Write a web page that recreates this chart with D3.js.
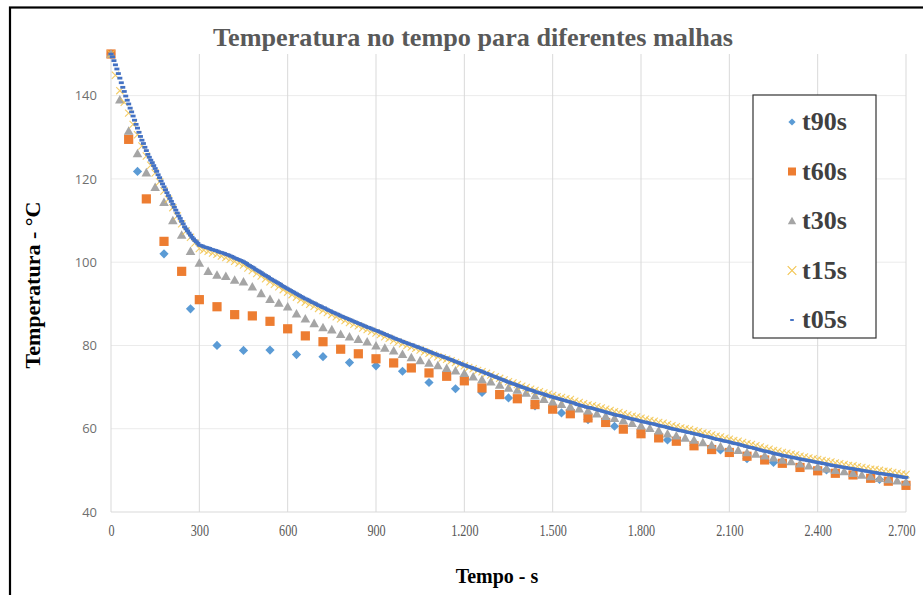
<!DOCTYPE html>
<html>
<head>
<meta charset="utf-8">
<script src="https://cdn.jsdelivr.net/npm/d3@7"></script>
<style>
  body { margin: 0; background: #fff; }
</style>
</head>
<body>
<div id="chart"></div>
<script>
// ---- data ----
const timeTicks = [0, 300, 600, 900, 1200, 1500, 1800, 2100, 2400, 2700]
const tempTicks = [40, 60, 80, 100, 120, 140]
const seriesNames = ["t90s", "t60s", "t30s", "t15s", "t05s"]
const stepSeconds = [90, 60, 30, 15, 5]

const t90s = [150, 121.8, 102, 88.8, 80, 78.8, 78.9, 77.8, 77.3, 75.9, 75.1, 73.8, 71.1, 69.6, 68.7, 67.4,
  65.5, 63.8, 62.2, 60.6, 58.9, 57.3, 56, 54.9, 52.8, 51.9, 51, 50.1, 49, 47.8, 46.7]

const t60s = [150, 129.5, 115.2, 105, 97.8, 91, 89.3, 87.4, 87.1, 85.8, 84, 82.3, 80.9, 79.1, 78, 76.8,
  75.8, 74.6, 73.4, 72.6, 71.5, 69.8, 68.2, 67.2, 65.8, 64.7, 63.6, 62.6, 61.5, 59.9, 58.8, 57.8,
  57, 55.9, 55, 54.3, 53.4, 52.5, 51.7, 50.7, 49.9, 49.3, 48.9, 48.1, 47.4, 46.4]

const t30s = [150, 139, 131.5, 126.1, 121.5, 118, 114.4, 110, 106.5, 102.6,
  99.8, 97.8, 96.9, 96.6, 95.7, 95.3, 94.1, 92.5, 91.1, 90.2,
  89.3, 87.6, 86.4, 85.3, 84.3, 83.8, 82.7, 82.1, 81.5, 80.9,
  79.9, 79.4, 78.7, 77.9, 77.1, 76.4, 75.8, 75.2, 74.5, 73.9,
  73.3, 72.5, 71.8, 71.3, 70.5, 69.8, 69.3, 68.6, 67.9, 67.1,
  66.5, 65.9, 65.3, 64.8, 64.3, 63.6, 63.0, 62.5, 62.0, 61.3,
  60.7, 60.1, 59.5, 58.8, 58.3, 57.8, 57.3, 56.7, 56.1, 55.7,
  55.3, 54.8, 54.3, 53.9, 53.5, 53.0, 52.5, 52.1, 51.6, 51.1,
  50.8, 50.4, 50.0, 49.7, 49.3, 48.9, 48.5, 48.1, 47.8, 47.5,
  47.2]

const t15s = [150, 144.9, 141.2, 138.4, 135.8, 133.1, 130.6, 127.9, 125.5, 123.3,
  121.4, 119.3, 117.1, 115.1, 113.1, 111.1, 109.2, 107.5, 106.0, 104.6,
  103.3, 102.9, 102.6, 102.2, 101.9, 101.5, 101.1, 100.7, 100.2, 99.8,
  99.3, 98.6, 98.0, 97.3, 96.7, 96.0, 95.3, 94.7, 94.1, 93.4,
  92.8, 92.2, 91.6, 91.0, 90.4, 89.9, 89.4, 88.9, 88.4, 87.9,
  87.4, 86.9, 86.4, 86.0, 85.5, 85.1, 84.7, 84.2, 83.8, 83.4,
  83.0, 82.6, 82.1, 81.7, 81.2, 80.8, 80.4, 80.0, 79.6, 79.3,
  78.9, 78.5, 78.1, 77.7, 77.3, 77.0, 76.7, 76.3, 75.9, 75.5,
  75.1, 74.7, 74.4, 74.0, 73.7, 73.3, 72.9, 72.5, 72.1, 71.7,
  71.3, 71.0, 70.6, 70.2, 69.9, 69.5, 69.2, 68.9, 68.6, 68.3,
  68.0, 67.7, 67.5, 67.2, 67.0, 66.6, 66.3, 66.0, 65.7, 65.5,
  65.3, 65.0, 64.7, 64.4, 64.1, 63.9, 63.6, 63.3, 63.0, 62.8,
  62.5, 62.3, 62.0, 61.8, 61.5, 61.3, 61.0, 60.7, 60.5, 60.2,
  60.0, 59.8, 59.5, 59.3, 59.0, 58.8, 58.5, 58.2, 58.0, 57.7,
  57.5, 57.2, 57.0, 56.7, 56.4, 56.2, 55.9, 55.6, 55.3, 55.1,
  54.8, 54.6, 54.3, 54.1, 53.9, 53.7, 53.4, 53.2, 53.0, 52.8,
  52.6, 52.4, 52.2, 52.0, 51.8, 51.6, 51.4, 51.2, 51.1, 50.9,
  50.7, 50.5, 50.3, 50.2, 50.0, 49.8, 49.7, 49.5, 49.3, 49.1,
  49.0]

const t05s = [150, 149.3, 148.4, 147.4, 146.4, 145.3, 144.2, 143.1, 142.0, 141.0,
  139.9, 138.9, 138.0, 137.0, 136.1, 135.1, 134.1, 133.1, 132.2, 131.2,
  130.2, 129.3, 128.5, 127.6, 126.8, 125.9, 125.2, 124.5, 123.9, 123.2,
  122.5, 121.8, 121.0, 120.3, 119.5, 118.8, 118.1, 117.4, 116.7, 116.0,
  115.3, 114.6, 113.9, 113.2, 112.5, 111.8, 111.1, 110.5, 109.8, 109.2,
  108.5, 108.0, 107.5, 107.0, 106.5, 106.0, 105.6, 105.2, 104.9, 104.5,
  104.1, 104.0, 103.9, 103.7, 103.6, 103.5, 103.4, 103.3, 103.1, 103.0,
  102.9, 102.8, 102.7, 102.5, 102.4, 102.3, 102.2, 102.1, 101.9, 101.8,
  101.7, 101.5, 101.4, 101.2, 101.0, 100.9, 100.7, 100.6, 100.4, 100.3,
  100.1, 99.9, 99.7, 99.4, 99.2, 99.0, 98.8, 98.6, 98.3, 98.1,
  97.9, 97.7, 97.5, 97.2, 97.0, 96.8, 96.6, 96.4, 96.1, 95.9,
  95.7, 95.5, 95.3, 95.1, 94.9, 94.7, 94.4, 94.2, 94.0, 93.8,
  93.6, 93.4, 93.2, 93.0, 92.8, 92.6, 92.4, 92.2, 92.0, 91.8,
  91.6, 91.4, 91.2, 91.1, 90.9, 90.7, 90.5, 90.3, 90.2, 90.0,
  89.8, 89.6, 89.5, 89.3, 89.1, 89.0, 88.8, 88.6, 88.4, 88.3,
  88.1, 87.9, 87.8, 87.6, 87.5, 87.3, 87.1, 87.0, 86.8, 86.7,
  86.5, 86.4, 86.2, 86.1, 85.9, 85.8, 85.6, 85.5, 85.3, 85.2,
  85.0, 84.9, 84.7, 84.6, 84.4, 84.3, 84.2, 84.0, 83.9, 83.7,
  83.6, 83.5, 83.3, 83.2, 83.0, 82.9, 82.7, 82.6, 82.4, 82.3,
  82.1, 82.0, 81.8, 81.7, 81.5, 81.4, 81.3, 81.1, 81.0, 80.8,
  80.7, 80.6, 80.4, 80.3, 80.2, 80.1, 79.9, 79.8, 79.7, 79.5,
  79.4, 79.3, 79.1, 79.0, 78.8, 78.7, 78.6, 78.4, 78.3, 78.1,
  78.0, 77.9, 77.7, 77.6, 77.5, 77.4, 77.2, 77.1, 77.0, 76.8,
  76.7, 76.6, 76.4, 76.3, 76.1, 76.0, 75.9, 75.7, 75.6, 75.4,
  75.3, 75.2, 75.0, 74.9, 74.8, 74.7, 74.5, 74.4, 74.3, 74.1,
  74.0, 73.9, 73.7, 73.6, 73.4, 73.3, 73.2, 73.0, 72.9, 72.7,
  72.6, 72.5, 72.3, 72.2, 72.0, 71.9, 71.8, 71.6, 71.5, 71.3,
  71.2, 71.1, 70.9, 70.8, 70.7, 70.6, 70.4, 70.3, 70.2, 70.0,
  69.9, 69.8, 69.7, 69.5, 69.4, 69.3, 69.2, 69.1, 68.9, 68.8,
  68.7, 68.6, 68.5, 68.4, 68.3, 68.2, 68.0, 67.9, 67.8, 67.7,
  67.6, 67.5, 67.4, 67.3, 67.2, 67.1, 67.0, 66.9, 66.8, 66.7,
  66.6, 66.5, 66.4, 66.3, 66.2, 66.1, 65.9, 65.8, 65.7, 65.6,
  65.5, 65.4, 65.3, 65.2, 65.1, 65.1, 65.0, 64.9, 64.8, 64.7,
  64.6, 64.5, 64.4, 64.3, 64.2, 64.1, 64.0, 63.9, 63.8, 63.7,
  63.6, 63.5, 63.4, 63.3, 63.2, 63.2, 63.1, 63.0, 62.9, 62.8,
  62.7, 62.6, 62.5, 62.4, 62.3, 62.3, 62.2, 62.1, 62.0, 61.9,
  61.8, 61.7, 61.6, 61.6, 61.5, 61.4, 61.3, 61.2, 61.2, 61.1,
  61.0, 60.9, 60.8, 60.7, 60.6, 60.6, 60.5, 60.4, 60.3, 60.2,
  60.1, 60.0, 59.9, 59.9, 59.8, 59.7, 59.6, 59.5, 59.5, 59.4,
  59.3, 59.2, 59.1, 59.1, 59.0, 58.9, 58.8, 58.7, 58.7, 58.6,
  58.5, 58.4, 58.3, 58.2, 58.1, 58.1, 58.0, 57.9, 57.8, 57.7,
  57.6, 57.5, 57.4, 57.4, 57.3, 57.2, 57.1, 57.0, 57.0, 56.9,
  56.8, 56.7, 56.6, 56.5, 56.4, 56.4, 56.3, 56.2, 56.1, 56.0,
  55.9, 55.8, 55.7, 55.6, 55.5, 55.5, 55.4, 55.3, 55.2, 55.1,
  55.0, 54.9, 54.8, 54.7, 54.6, 54.6, 54.5, 54.4, 54.3, 54.2,
  54.1, 54.0, 53.9, 53.9, 53.8, 53.7, 53.6, 53.5, 53.5, 53.4,
  53.3, 53.2, 53.2, 53.1, 53.0, 53.0, 52.9, 52.8, 52.7, 52.7,
  52.6, 52.5, 52.5, 52.4, 52.3, 52.3, 52.2, 52.1, 52.0, 52.0,
  51.9, 51.8, 51.8, 51.7, 51.6, 51.6, 51.5, 51.4, 51.3, 51.3,
  51.2, 51.1, 51.1, 51.0, 51.0, 50.9, 50.8, 50.8, 50.7, 50.7,
  50.6, 50.5, 50.5, 50.4, 50.4, 50.3, 50.2, 50.2, 50.1, 50.1,
  50.0, 49.9, 49.9, 49.8, 49.8, 49.7, 49.6, 49.6, 49.5, 49.5,
  49.4, 49.3, 49.3, 49.2, 49.2, 49.1, 49.1, 49.0, 49.0, 48.9,
  48.9, 48.8, 48.7, 48.7, 48.6, 48.6, 48.5, 48.4, 48.4, 48.3,
  48.3]

const seriesValues = [t90s, t60s, t30s, t15s, t05s]
const seriesColors = ["#5B9BD5", "#ED7D31", "#A5A5A5", "#F2C44E", "#4472C4"]

// ---- chart ----
const serif = "'Liberation Serif','Times New Roman',serif"

const svg = d3.select("#chart")
    .append("svg")
    .attr("width", 923)
    .attr("height", 595)

// outer frame (right and bottom sides fall outside the picture)
svg.append("rect")
    .attr("x", 10).attr("y", 7.5)
    .attr("width", 960).attr("height", 700)
    .attr("fill", "#fff")
    .attr("stroke", "#000")
    .attr("stroke-width", 2.2)

const x = d3.scaleLinear().domain([0, 2700]).range([111, 906])
const y = d3.scaleLinear().domain([40, 150]).range([512, 54])

// gridlines
svg.append("g").selectAll("line")
    .data(tempTicks.slice(1))
    .enter().append("line")
    .attr("x1", x(0)).attr("x2", x(2700))
    .attr("y1", d => y(d)).attr("y2", d => y(d))
    .attr("stroke", "#ebebeb")

svg.append("g").selectAll("line")
    .data(timeTicks)
    .enter().append("line")
    .attr("x1", d => x(d)).attr("x2", d => x(d))
    .attr("y1", y(40)).attr("y2", y(150))
    .attr("stroke", "#d9d9d9")

svg.append("line")
    .attr("x1", x(0)).attr("x2", x(2700))
    .attr("y1", y(40)).attr("y2", y(40))
    .attr("stroke", "#d9d9d9")

// axes
const ptBR = d3.formatLocale({ decimal: ",", thousands: ".", grouping: [3], currency: ["R$", ""] })

const xAxis = svg.append("g")
    .attr("transform", "translate(0," + y(40) + ")")
    .call(d3.axisBottom(x).tickValues(timeTicks).tickSize(0).tickPadding(13).tickFormat(ptBR.format(",d")))
xAxis.select(".domain").remove()
xAxis.selectAll("text")
    .style("font-family", serif)
    .style("font-size", "16px")
    .attr("fill", "#595959")
    .each(function () {
        const w = this.getComputedTextLength()
        d3.select(this).attr("textLength", w * 0.76).attr("lengthAdjust", "spacingAndGlyphs")
    })
// last label sits against the picture edge: pin its right side
xAxis.selectAll("text")
    .filter(d => d === 2700)
    .attr("text-anchor", "end")
    .attr("x", 9)

const yAxis = svg.append("g")
    .attr("transform", "translate(" + x(0) + ",0)")
    .call(d3.axisLeft(y).tickValues(tempTicks).tickSize(0).tickPadding(14))
yAxis.select(".domain").remove()
yAxis.selectAll("text")
    .style("font-family", "'Open Sans','Liberation Sans',sans-serif")
    .style("font-size", "13px")
    .attr("fill", "#6f6f6f")

// markers
function marker(sel, kind, s) {
    if (kind === "t90s") {
        sel.append("path").attr("d", `M0,${-s}L${s},0L0,${s}L${-s},0Z`)
    } else if (kind === "t60s") {
        sel.append("rect").attr("x", -s).attr("y", -s).attr("width", 2 * s).attr("height", 2 * s)
    } else if (kind === "t30s") {
        sel.append("path").attr("d", `M0,${-s}L${s},${s * 0.78}L${-s},${s * 0.78}Z`)
    } else if (kind === "t15s") {
        sel.append("path").attr("d", `M${-s},${-s}L${s},${s}M${-s},${s}L${s},${-s}`)
            .attr("fill", "none").attr("stroke-width", 1.1)
    } else {
        sel.append("rect").attr("x", -s).attr("y", -s * 0.55).attr("width", 2 * s).attr("height", s * 1.1)
    }
}
const markerSize = [4.6, 4.6, 4.8, 3.6, 2.5]
const legendSize = [3.6, 4, 4.2, 4.3, 1.8]

seriesNames.forEach(function (name, k) {
    const g = svg.append("g").attr("class", "series-" + name)
    const pts = g.selectAll("g")
        .data(seriesValues[k])
        .enter().append("g")
        .attr("transform", (d, i) => "translate(" + x(i * stepSeconds[k]) + "," + y(d) + ")")
    if (name === "t15s") pts.attr("stroke", seriesColors[k]).attr("opacity", 0.85)
    else pts.attr("fill", seriesColors[k])
    pts.each(function () { marker(d3.select(this), name, markerSize[k]) })
})

// title
svg.append("text")
    .attr("x", 473).attr("y", 46)
    .attr("text-anchor", "middle")
    .attr("textLength", 520).attr("lengthAdjust", "spacingAndGlyphs")
    .style("font-family", serif).style("font-size", "26px").style("font-weight", "bold")
    .attr("fill", "#595959")
    .text("Temperatura no tempo para diferentes malhas")

// axis titles
svg.append("text")
    .attr("x", 497).attr("y", 583)
    .attr("text-anchor", "middle")
    .style("font-family", serif).style("font-size", "20px").style("font-weight", "bold")
    .attr("fill", "#000")
    .text("Tempo - s")

svg.append("text")
    .attr("transform", "translate(40,285) rotate(-90)")
    .attr("text-anchor", "middle")
    .style("font-family", serif).style("font-size", "22px").style("font-weight", "bold")
    .attr("fill", "#000")
    .text("Temperatura - °C")

// legend
const legend = svg.append("g").attr("transform", "translate(753,95)")
legend.append("rect")
    .attr("width", 123).attr("height", 243)
    .attr("fill", "#fff")
    .attr("stroke", "#333")
    .attr("stroke-width", 1.2)

seriesNames.forEach(function (name, k) {
    const row = legend.append("g").attr("transform", "translate(39," + (27 + k * 49.5) + ")")
    const m = row.append("g")
    if (name === "t15s") m.attr("stroke", seriesColors[k])
    else m.attr("fill", seriesColors[k])
    marker(m, name, legendSize[k])
    row.append("text")
        .attr("x", 10).attr("y", 8)
        .style("font-family", serif).style("font-size", "26px").style("font-weight", "bold")
        .attr("fill", "#404040")
        .text(name)
})
</script>
</body>
</html>
